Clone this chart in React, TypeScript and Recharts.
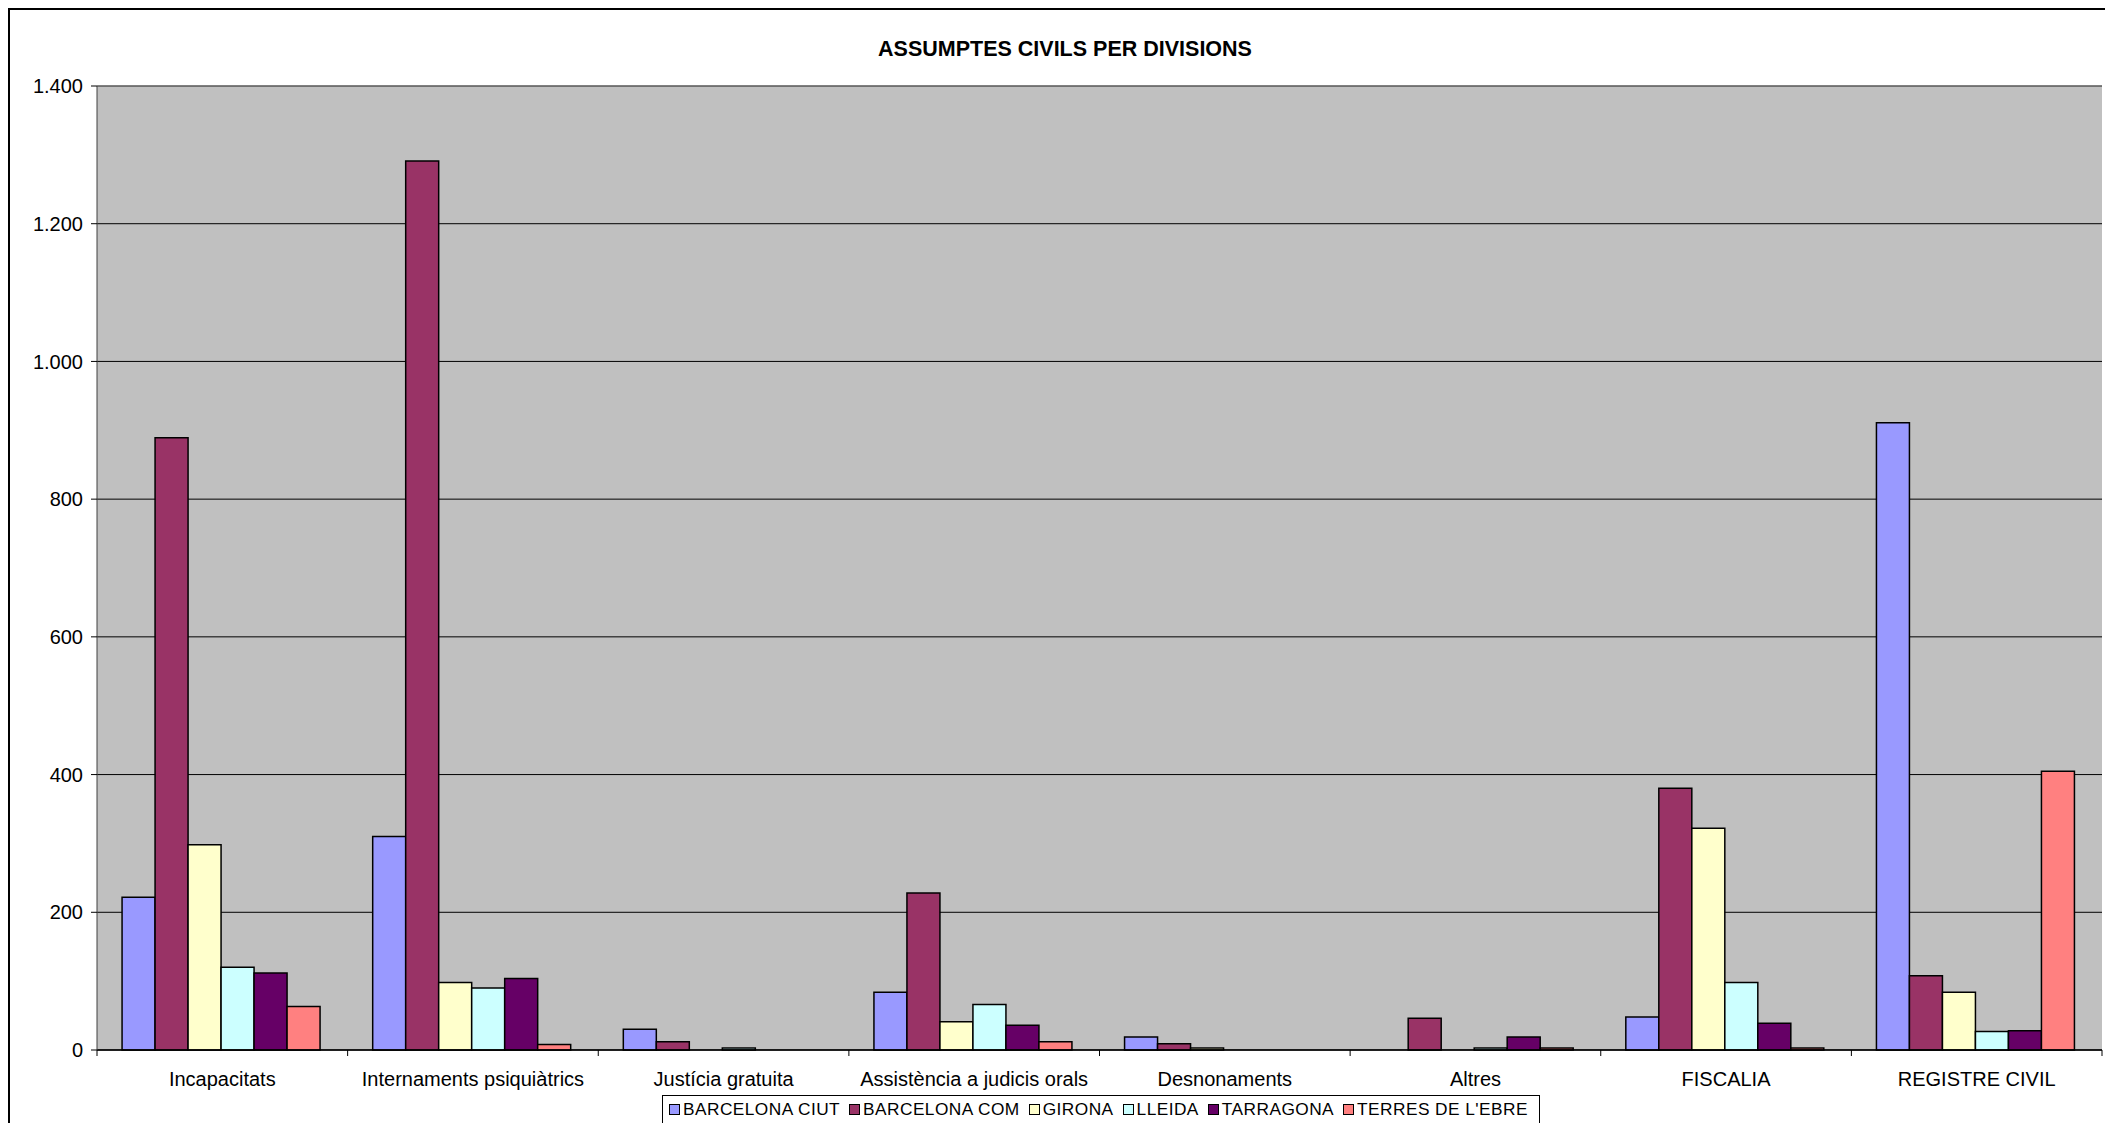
import { Bar, BarChart, CartesianGrid, ReferenceLine, XAxis, YAxis } from "recharts";

const CATEGORIES = [
  "Incapacitats",
  "Internaments psiquiàtrics",
  "Justícia gratuita",
  "Assistència a judicis orals",
  "Desnonaments",
  "Altres",
  "FISCALIA",
  "REGISTRE CIVIL",
];

const BARCELONA_CIUT = [222, 310, 30, 84, 19, 0, 48, 911];
const BARCELONA_COM = [889, 1291, 12, 228, 9, 46, 380, 108];
const GIRONA = [298, 98, 0, 41, 3, 0, 322, 84];
const LLEIDA = [120, 90, 3, 66, 0, 3, 98, 27];
const TARRAGONA = [112, 104, 0, 36, 0, 19, 39, 28];
const TERRES_EBRE = [63, 8, 0, 12, 0, 3, 3, 405];

const Y_TICKS = [0, 200, 400, 600, 800, 1000, 1200, 1400];

const SERIES = [
  { key: "ciut", label: "BARCELONA CIUT", color: "#9999FF", values: BARCELONA_CIUT },
  { key: "com", label: "BARCELONA COM", color: "#993366", values: BARCELONA_COM },
  { key: "girona", label: "GIRONA", color: "#FFFFCC", values: GIRONA },
  { key: "lleida", label: "LLEIDA", color: "#CCFFFF", values: LLEIDA },
  { key: "tarragona", label: "TARRAGONA", color: "#660066", values: TARRAGONA },
  { key: "terres", label: "TERRES DE L'EBRE", color: "#FF8080", values: TERRES_EBRE },
];

const data = CATEGORIES.map((name, i) => {
  const row: Record<string, string | number> = { name };
  SERIES.forEach((s) => (row[s.key] = s.values[i]));
  return row;
});

const FONT = "'Liberation Sans', Arial, sans-serif";
const W = 2114;
const H = 1130;
const M = { top: 78, right: 20, left: 0, bottom: 48 };

const fmt = (v: number) =>
  v >= 1000 ? `${Math.floor(v / 1000)}.${String(v % 1000).padStart(3, "0")}` : String(v);

function CatTick(props: any) {
  const { x, y, payload, index } = props;
  const half = payload?.offset ?? (W - M.left - M.right - 89) / CATEGORIES.length / 2;
  return (
    <g>
      <line x1={x - half} x2={x - half} y1={y} y2={y + 6} stroke="#000" />
      {index === CATEGORIES.length - 1 && (
        <line x1={x + half} x2={x + half} y1={y} y2={y + 6} stroke="#000" />
      )}
      <text x={x} y={y + 29} textAnchor="middle" dominantBaseline="central" fontSize={20} fontFamily={FONT} fill="#000">
        {payload.value}
      </text>
    </g>
  );
}

export default function App() {
  return (
    <div style={{ position: "fixed", left: 8, top: 8, width: 2097, height: 1115, overflow: "hidden", background: "#fff" }}>
      <div style={{ position: "relative", width: W, height: H }}>
        <BarChart width={W} height={H} data={data} margin={M} barCategoryGap="10%" barGap={0}>
          <CartesianGrid vertical={false} fill="#C0C0C0" stroke="#000" fillOpacity={1} />
          <XAxis
            dataKey="name"
            height={40}
            tickLine={false}
            tickSize={0}
            tickMargin={0}
            axisLine={{ stroke: "#000", strokeWidth: 1.5 }}
            tick={<CatTick />}
            interval={0}
          />
          <YAxis
            width={89}
            domain={[0, 1400]}
            ticks={Y_TICKS}
            tickFormatter={fmt}
            tickSize={6}
            tickMargin={8}
            axisLine={{ stroke: "#404040" }}
            tickLine={{ stroke: "#000" }}
            tick={{ fontSize: 20, fontFamily: FONT, fill: "#000" }}
          />
          <YAxis yAxisId="right" orientation="right" width={0} tick={false} tickLine={false} axisLine={{ stroke: "#808080" }} />
          <ReferenceLine y={1400} stroke="#808080" />
          {SERIES.map((s) => (
            <Bar
              key={s.key}
              dataKey={s.key}
              name={s.label}
              fill={s.color}
              stroke="#000"
              strokeWidth={1.5}
              isAnimationActive={false}
            />
          ))}
        </BarChart>
        <div
          style={{
            position: "absolute",
            left: 0,
            right: 0,
            top: 29,
            textAlign: "center",
            fontFamily: FONT,
            fontWeight: "bold",
            fontSize: 21.5,
            lineHeight: "24px",
            color: "#000",
          }}
        >
          ASSUMPTES CIVILS PER DIVISIONS
        </div>
        <div
          style={{
            position: "absolute",
            left: 654,
            top: 1087,
            width: 878,
            height: 40,
            border: "1px solid #000",
            boxSizing: "border-box",
            background: "#fff",
            display: "flex",
            alignItems: "flex-start",
            paddingLeft: 6,
            paddingTop: 3,
            fontFamily: FONT,
            fontSize: 17.3,
            letterSpacing: 0.45,
            lineHeight: "20px",
            color: "#000",
            whiteSpace: "nowrap",
          }}
        >
          {SERIES.map((s) => (
            <span key={s.key} style={{ display: "flex", alignItems: "center", marginRight: 9 }}>
              <span
                style={{
                  display: "inline-block",
                  width: 9,
                  height: 9,
                  border: "1px solid #000",
                  background: s.color,
                  marginRight: 3,
                }}
              />
              {s.label}
            </span>
          ))}
        </div>
        <div
          style={{
            position: "absolute",
            left: 0,
            top: 0,
            width: W,
            height: H,
            border: "2px solid #000",
            boxSizing: "border-box",
            pointerEvents: "none",
          }}
        />
      </div>
    </div>
  );
}
